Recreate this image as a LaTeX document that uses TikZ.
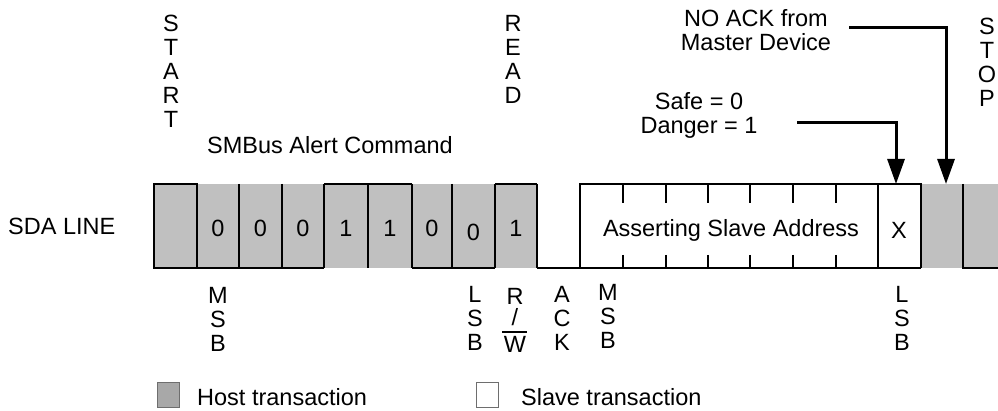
\documentclass[tikz,border=0pt]{standalone}
\usepackage{fontspec}
\setmainfont{Liberation Sans}
\usetikzlibrary{arrows.meta}
\definecolor{hostgray}{HTML}{C0C0C0}
\definecolor{legendgray}{HTML}{A8A8A8}
\definecolor{legendedge}{HTML}{6E6E6E}
\begin{document}
\begin{tikzpicture}[x=1pt,y=-1pt,
  lbl/.style={inner sep=0pt, font=\fontsize{23.5}{24}\selectfont, align=center},
  wv/.style={line width=2.2pt},
  tick/.style={line width=2pt},
  callout/.style={line width=3pt, -{Triangle[width=17pt,length=25pt]}},
  legbox/.style={line width=1pt, draw=legendedge}]
\useasboundingbox (0,0) rectangle (998,411);
% fills
\fill[hostgray] (154,184) rectangle (537,268);
\fill[hostgray] (921,184) rectangle (998,268);
% start bit
\draw[wv] (154,184) rectangle (197,268);
% address bits 0001100 + R/W
\draw[wv] (197,268) -- (324,268);
\draw[wv] (324,184) -- (412,184);
\draw[wv] (412,268) -- (495,268);
\draw[wv] (495,184) -- (537,184);
\foreach \x in {239,282,324,368,412,452,495,537}
  \draw[wv] (\x,184) -- (\x,268);
% ACK low and slave data
\draw[wv] (537,268) -- (921,268);
\draw[wv] (580,268) -- (580,184) -- (921,184) -- (921,268);
\draw[wv] (878,184) -- (878,268);
\foreach \x in {623,666,708,750,793,836}{
  \draw[tick] (\x,184) -- (\x,203);
  \draw[tick] (\x,255) -- (\x,268);
}
% stop
\draw[wv] (963,184) -- (963,268) -- (998,268);
% bit values
\node[lbl] (b1) at (218,228) {0};
\node[lbl] (b2) at (260.5,228) {0};
\node[lbl] (b3) at (303,228) {0};
\node[lbl] (b4) at (346,228) {1};
\node[lbl] (b5) at (390,228) {1};
\node[lbl] (b6) at (432,228) {0};
\node[lbl] (b7) at (473.5,232) {0};
\node[lbl] (b8) at (516,228) {1};
\node[lbl] (addr) at (731,230) {Asserting Slave Address};
\node[lbl] (xbit) at (899,230) {X};
% labels
\node[lbl, anchor=west] (sda) at (8,226) {SDA LINE};
\node[lbl] (start) at (171,71) {S\\T\\A\\R\\T};
\node[lbl] (read) at (513,59) {R\\E\\A\\D};
\node[lbl] (stop) at (987,62) {S\\T\\O\\P};
\node[lbl] (cmd) at (330,145) {SMBus Alert Command};
\node[lbl] (noack) at (756,30) {NO ACK from\\Master Device};
\node[lbl] (safe) at (699,115) {Safe = 0\\Danger = 1};
% bottom labels
\node[lbl] (msb1) at (218,319) {M\\S\\B};
\node[lbl] (lsb1) at (475,318.5) {L\\S\\B};
\node[lbl] (rw) at (515,320) {R\\\raisebox{2.5pt}{/}\\\rlap{\smash{\kern-1.5pt\rule[19pt]{25pt}{2.5pt}}}W};
\node[lbl] (ack) at (562,318) {A\\C\\K};
\node[lbl] (msb2) at (608,316) {M\\S\\B};
\node[lbl] (lsb2) at (902,318.5) {L\\S\\B};
% callouts
\coordinate (noackstart) at (849,28);
\coordinate (ackpt) at (946,184);
\coordinate (safestart) at (797,123);
\coordinate (xpt) at (896,184);
\draw[callout] (noackstart) -| (ackpt);
\draw[callout] (safestart) -| (xpt);
% legend
\node[legbox, fill=legendgray, minimum width=22pt, minimum height=25pt, inner sep=0pt] (hostkey) at (168,395) {};
\node[lbl, anchor=west] (hosttxt) at (197,397) {Host transaction};
\node[legbox, fill=white, minimum width=22pt, minimum height=25pt, inner sep=0pt] (slavekey) at (487,394.5) {};
\node[lbl, anchor=west] (slavetxt) at (521,397) {Slave transaction};
\end{tikzpicture}
\end{document}
